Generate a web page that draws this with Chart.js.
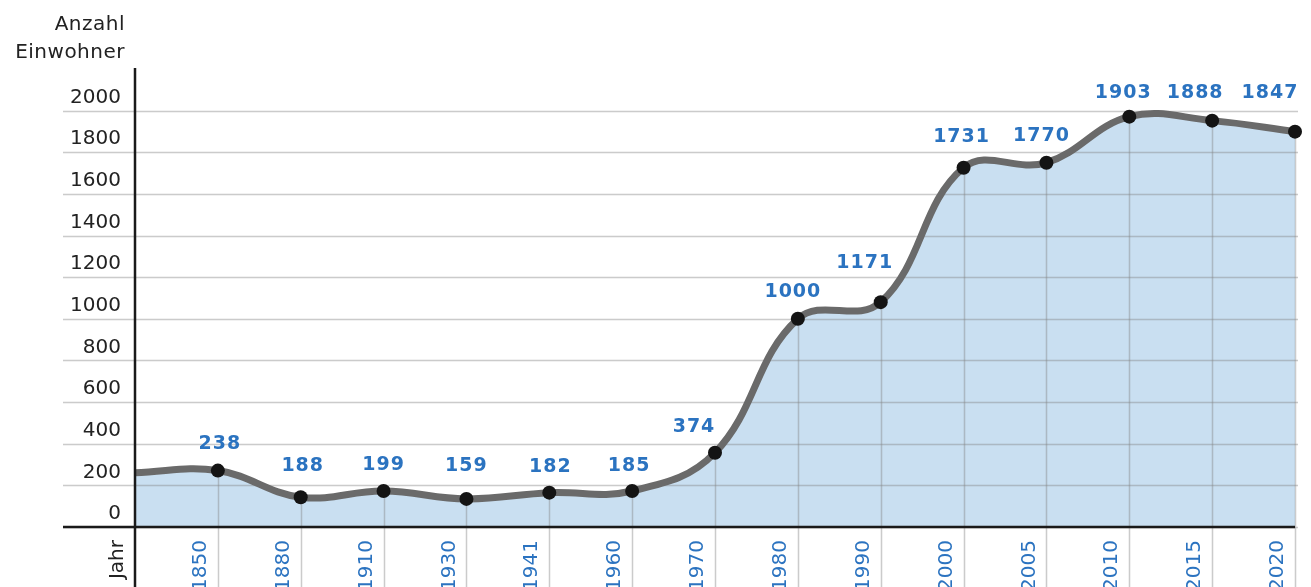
<!DOCTYPE html>
<html>
<head>
<meta charset="utf-8">
<script src="https://cdn.jsdelivr.net/npm/chart.js@4/dist/chart.umd.min.js"></script>
<style>
  html, body { margin: 0; padding: 0; background: #fff; }
  #wrap { width: 1311px; height: 587px; position: relative; }
</style>
</head>
<body>
<div id="wrap"><canvas id="chart"></canvas></div>
<script>
// Jahr labels on the x axis (first slot is the axis caption, line starts there)
const jahre = [ 'Jahr', '1850', '1880', '1910', '1930', '1941', '1960', '1970', '1980', '1990', '2000', '2005', '2010', '2015', '2020' ];
const kurve = [ 261, 271, 143, 173, 135, 165, 173, 357, 1000, 1080, 1726, 1750, 1971, 1952, 1899 ];
// the numbers printed above the points
const einwohner = [ '', '238', '188', '199', '159', '182', '185', '374', '1000', '1171', '1731', '1770', '1903', '1888', '1847' ];
const yTicks = [ 0, 200, 400, 600, 800, 1000, 1200, 1400, 1600, 1800, 2000 ];

const BLUE = '#2b73c0';
const GRID = 'rgba(130,130,130,0.42)';
// nudges for the printed numbers, relative to their point
const LABEL_NUDGE = [
    [ 0, 0 ], [ 2, -27 ], [ 2, -31 ], [ 0, -26 ], [ 0, -33 ], [ 1, -26 ], [ -3, -25 ],
    [ -21, -26 ], [ -5, -27 ], [ -16, -39 ], [ -2, -31 ], [ -5, -27 ], [ -6, -24 ], [ -17, -28 ], [ -25, -39 ],
];

const decor = {
    id: 'decor',
    beforeDatasetDraw( chart ) {
        const { ctx, chartArea, scales: { x, y } } = chart;
        const meta = chart.getDatasetMeta( 0 );
        ctx.save();
        ctx.strokeStyle = GRID;
        ctx.lineWidth = 1.5;
        // horizontal lines, reaching out under the tick labels
        yTicks.forEach( ( v ) => {
            const py = Math.round( y.getPixelForValue( v ) ) + 0.5;
            ctx.beginPath();
            ctx.moveTo( chartArea.left - 72, py );
            ctx.lineTo( chartArea.right + 3, py );
            ctx.stroke();
        } );
        // vertical lines from the curve down through the year labels
        meta.data.forEach( ( pt, i ) => {
            if ( i === 0 ) return;
            const px = Math.round( x.getPixelForValue( i ) ) + 0.5;
            ctx.beginPath();
            ctx.moveTo( px, pt.y );
            ctx.lineTo( px, chart.height );
            ctx.stroke();
        } );
        ctx.restore();
    },
    afterDatasetsDraw( chart ) {
        const { ctx, chartArea, scales: { y } } = chart;
        const meta = chart.getDatasetMeta( 0 );
        ctx.save();
        // axes
        ctx.strokeStyle = '#1a1a1a';
        ctx.lineWidth = 2.5;
        const y0 = y.getPixelForValue( 0 );
        ctx.beginPath();
        ctx.moveTo( chartArea.left - 72, y0 );
        ctx.lineTo( chartArea.right, y0 );
        ctx.stroke();
        ctx.beginPath();
        ctx.moveTo( chartArea.left, chartArea.top - 1 );
        ctx.lineTo( chartArea.left, chart.height );
        ctx.stroke();
        // printed numbers
        ctx.fillStyle = BLUE;
        ctx.font = 'bold 19px "DejaVu Sans"';
        ctx.letterSpacing = '1px';
        ctx.textAlign = 'center';
        ctx.textBaseline = 'middle';
        meta.data.forEach( ( pt, i ) => {
            if ( ! einwohner[ i ] ) return;
            const [ dx, dy ] = LABEL_NUDGE[ i ];
            ctx.fillText( einwohner[ i ], pt.x + dx, pt.y + dy );
        } );
        // axis title
        ctx.fillStyle = '#222';
        ctx.font = '20px "DejaVu Sans"';
        ctx.letterSpacing = '0.5px';
        ctx.textAlign = 'right';
        ctx.fillText( 'Anzahl', chartArea.left - 10, 25 );
        ctx.fillText( 'Einwohner', chartArea.left - 10, 53 );
        ctx.restore();
    },
};

new Chart( document.getElementById( 'chart' ), {
    type: 'line',
    data: {
        labels: jahre,
        datasets: [ {
            data: kurve,
            borderColor: '#6a6a6a',
            borderWidth: 7,
            backgroundColor: '#c9dff1',
            fill: 'origin',
            tension: 0.4,
            pointRadius: kurve.map( ( v, i ) => ( i === 0 ? 0 : 7 ) ),
            pointBackgroundColor: '#141414',
            pointBorderWidth: 0,
            clip: false,
        } ],
    },
    options: {
        responsive: true,
        maintainAspectRatio: false,
        animation: false,
        events: [],
        layout: { padding: { top: 69, right: 16, left: 0, bottom: 0 } },
        plugins: {
            legend: { display: false },
            tooltip: { enabled: false },
        },
        scales: {
            x: {
                grid: { display: false, drawTicks: false },
                border: { display: false },
                afterFit: ( s ) => { s.height = 60; s.paddingLeft = 0; s.paddingRight = 0; },
                ticks: {
                    autoSkip: false,
                    minRotation: 90,
                    maxRotation: 90,
                    padding: 13,
                    labelOffset: -17,
                    color: ( c ) => ( c.index === 0 ? '#222' : BLUE ),
                    font: { family: 'DejaVu Sans', size: 20 },
                },
            },
            y: {
                min: 0,
                max: 2200,
                grid: { display: false, drawTicks: false },
                border: { display: false },
                afterFit: ( s ) => { s.width = 135; s.paddingTop = 0; s.paddingBottom = 0; },
                ticks: {
                    stepSize: 200,
                    padding: 14,
                    labelOffset: -13,
                    color: '#222',
                    font: { family: 'DejaVu Sans', size: 20 },
                    callback: ( v ) => ( yTicks.includes( v ) ? String( v ) : '' ),
                },
            },
        },
    },
    plugins: [ decor ],
} );
</script>
</body>
</html>
